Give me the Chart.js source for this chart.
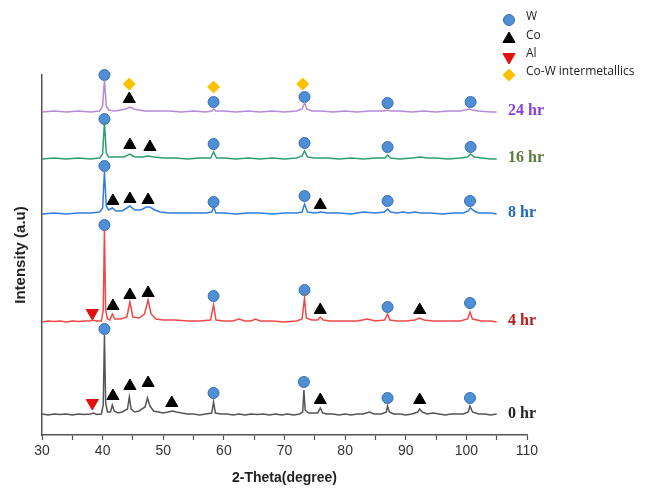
<!DOCTYPE html>
<html>
<head>
<meta charset="utf-8">
<script src="https://cdn.jsdelivr.net/npm/chart.js@4/dist/chart.umd.min.js"></script>
<style>
  html, body { margin: 0; padding: 0; background: #fff; }
  #wrap { width: 655px; height: 491px; position: relative; }
</style>
</head>
<body>
<div id="wrap"><canvas id="xrd"></canvas></div>
<script>
// --- DATA (2-theta, intensity above each pattern's baseline) ---
const sampleLabels = ['0 hr', '4 hr', '8 hr', '16 hr', '24 hr'];
const baselineOffsets = [20, 113, 221, 276, 323];

const pattern0hr = [[30,1],[31,0],[32,1],[33,0.5],[34,1],[35,0],[36,1],[37,0.5],[38,1],[38.5,2],[39,0.5],[39.8,1],[40.1,10],[40.3,80],[40.5,12],[40.8,3],[41.3,3],[41.6,10],[41.9,4],[42.5,2],[43.2,3],[44.1,6],[44.4,18],[44.7,6],[45.3,3],[46,4],[47,8],[47.4,17],[47.8,9],[48.4,4],[49.2,3],[50,2],[50.8,3],[51.5,4],[52.2,3],[53,2],[54,1],[55,1],[56,0],[57,1],[58,2],[58.3,13],[58.6,2],[59.5,1],[60.5,1],[61.5,0],[62.5,1],[63.5,0],[64.5,1],[65.5,0.5],[66.5,1],[67.5,0],[68.5,1],[69.5,0],[70.5,1],[71.5,0],[72.5,1],[73,3],[73.2,25],[73.4,5],[74,2],[75.5,2],[75.9,7],[76.3,2],[77,1],[78,1],[79,0],[80,1],[81,0],[82,1],[83,1],[84,3],[84.8,1],[86,1],[86.8,3],[87,9],[87.3,3],[88,1],[89,1],[90,0],[91,1],[92,3],[92.3,6],[92.7,3],[93.5,1],[94.5,2],[95.5,1],[96.5,0],[97.5,1],[98.5,1],[99.5,1],[100.3,3],[100.6,9],[101,3],[102,1],[103,1],[104,0],[105,1]];

const pattern4hr = [[30,0],[31,1],[32,0.5],[33,1],[34,0],[35,1],[36,0.5],[37,1],[38,1],[38.3,2],[39,1],[39.8,1],[40.1,12],[40.3,92],[40.5,12],[40.8,3],[41.2,2],[41.6,8],[42,3],[43,3],[44,5],[44.5,20],[45,5],[46,4],[46.9,8],[47.5,22],[48,8],[48.8,3],[50,2],[52,2],[54,1],[56,1],[57.8,2],[58.3,17],[58.7,2],[60,1],[61.5,1],[62.5,3],[63.5,1],[64.5,1],[65.2,3],[66,1],[68,1],[70,0],[72,1],[72.9,3],[73.3,24],[73.6,4],[74.5,2],[75.5,2],[75.9,5],[76.4,2],[77.5,1],[79,1],[80.5,1],[82,1],[83.7,3],[85,1],[86.5,2],[87,8],[87.4,2],[88.5,1],[90,1],[91.5,2],[92.3,4],[93,2],[94.5,1],[96,1],[97.5,1],[99,1],[100.2,3],[100.6,10],[101,3],[102.5,1],[104,1],[105,0]];

const pattern8hr = [[30,0],[32,1],[34,0],[36,1],[38,1],[39.5,2],[40,6],[40.3,42],[40.6,8],[41,4],[41.6,6],[42.2,3],[43.2,3],[44.5,8],[45.3,4],[46.3,4],[47.2,7],[47.8,7],[48.6,4],[49.5,2],[51,1],[53,1],[55,1],[57,1],[58,2],[58.3,7],[58.7,1],[60,1],[62,0],[64,1],[66,1],[68,0],[70,1],[72,1],[72.9,2],[73.3,10],[73.8,2],[75,1],[76,2],[77,1],[79,1],[81,0],[83,2],[85,1],[86.5,2],[87,5],[87.5,2],[88.5,1],[89.5,2],[90.5,1],[91.5,2],[92.5,1],[94,1],[96,0],[98,1],[99.5,1],[100.3,3],[100.7,6],[101.3,3],[102,1],[104,1],[105,0]];

const pattern16hr = [[30,0],[32,1],[34,0],[36,1],[38,0],[39.5,1],[40,5],[40.3,37],[40.6,6],[41,2],[42,2],[43.5,2],[44.5,5],[45.3,2],[46.5,2],[47.5,3],[48.5,2],[50,1],[52,1],[54,0],[56,1],[57.8,1],[58.3,7],[58.8,1],[60,1],[62,0],[64,1],[66,0],[68,1],[70,0],[72,1],[72.9,3],[73.3,8],[73.8,2],[75,1],[77,1],[79,0],[81,1],[83,0],[85,1],[86.6,1],[87,4],[87.5,1],[89,0],[91,1],[92.4,2],[93.5,1],[95,1],[97,0],[99,1],[100.2,2],[100.7,5],[101.3,2],[102.5,1],[104,0],[105,0]];

const pattern24hr = [[30,0],[32,1],[34,0],[36,1],[38,0],[39.5,1],[40,6],[40.3,32],[40.6,6],[41,2],[42,1],[43,2],[43.8,3],[44.5,5],[45.2,3],[46,2],[47,1],[49,1],[51,1],[53,0],[55,1],[57,0],[58,1],[58.3,3],[58.7,1],[60,1],[62,0],[64,1],[66,0],[68,1],[70,0],[72,1],[72.9,3],[73.3,9],[73.7,3],[74.5,1],[76,1],[78,0],[80,1],[82,0],[84,1],[86.5,1],[87,2],[87.5,1],[89,1],[91,0],[93,1],[95,0],[97,1],[99,1],[100.5,3],[101,2],[102,1],[104,0],[105,0]];

// phase markers (2-theta, plotted intensity)
const markersW = [[40.3,106],[58.3,42],[73.2,53],[87,37],[100.6,37],
  [40.3,210],[58.3,139],[73.3,145],[87,128],[100.6,132],
  [40.3,269],[58.3,233],[73.3,239],[87,234],[100.6,234],
  [40.3,316],[58.3,291],[73.3,292],[87,288],[100.7,288],
  [40.3,360],[58.3,333],[73.3,338],[87,332],[100.7,333]];
const markersCo = [[41.7,39],[44.5,49],[47.5,52],[51.4,32],[75.9,35],[92.3,35],
  [41.7,129],[44.5,140],[47.5,142],[75.9,125],[92.3,125],
  [41.7,234],[44.5,236],[47.5,235],[75.9,230],
  [44.5,290],[47.8,288],
  [44.4,336]];
const markersAl = [[38.3,32],[38.3,122]];
const markersCoW = [[44.4,351],[58.3,348],[73,351]];

const xTicks = [30, 40, 50, 60, 70, 80, 90, 100, 110];

// --- STYLE ---
const lineColors = ['#555555', '#f04848', '#2f7de0', '#2e9e6e', '#b58ad8'];
const labelColors = ['#222222', '#b81c1c', '#1f66bf', '#5b7d3c', '#8b3fd9'];
const patterns = [pattern0hr, pattern4hr, pattern8hr, pattern16hr, pattern24hr];

const datasets = [];
patterns.forEach((p, i) => {
    datasets.push({
        type: 'line',
        label: sampleLabels[i],
        data: p.map(pt => ({ x: pt[0], y: pt[1] + baselineOffsets[i] })),
        borderColor: lineColors[i],
        borderWidth: 1.5,
        pointRadius: 0,
        tension: 0,
        fill: false
    });
});

function markerSet(label, arr, style, bg, border, radius, rotation) {
    return {
        type: 'scatter',
        label: label,
        data: arr.map(pt => ({ x: pt[0], y: pt[1] })),
        pointStyle: style,
        backgroundColor: bg,
        borderColor: border,
        borderWidth: 1,
        pointRadius: radius,
        rotation: rotation || 0,
        clip: false
    };
}
const markerDefs = [
    markerSet('W', markersW, 'circle', '#4f8fd6', '#3a6fb0', 5.5),
    markerSet('Co', markersCo, 'triangle', '#000000', '#000000', 7),
    markerSet('Al', markersAl, 'triangle', '#e31010', '#e31010', 7, 180),
    markerSet('Co-W intermetallics', markersCoW, 'rectRot', '#ffc000', '#ffc000', 6)
];
markerDefs.forEach(d => datasets.push(d));

// sample labels at the right end + legend at top right
const extrasPlugin = {
    id: 'extras',
    afterDraw(chart) {
        const ctx = chart.ctx;
        const yScale = chart.scales.y;
        ctx.save();
        ctx.font = 'bold 16px "Liberation Serif"';
        ctx.textBaseline = 'middle';
        ctx.textAlign = 'left';
        sampleLabels.forEach((lab, i) => {
            ctx.fillStyle = labelColors[i];
            ctx.fillText(lab, 508, yScale.getPixelForValue(baselineOffsets[i]) - 1);
        });
        // legend
        const rows = [20, 39, 57, 75];
        ctx.font = '12px "Open Sans"';
        markerDefs.forEach((d, i) => {
            ctx.fillStyle = d.backgroundColor;
            ctx.strokeStyle = d.borderColor;
            ctx.lineWidth = 1;
            Chart.helpers.drawPoint(ctx, {
                pointStyle: d.pointStyle,
                rotation: d.rotation,
                radius: d.pointRadius,
                borderWidth: 1
            }, 509, rows[i]);
            ctx.fillStyle = '#222';
            ctx.fillText(d.label, 526, rows[i] - 3);
        });
        ctx.restore();
    }
};

new Chart(document.getElementById('xrd'), {
    data: { datasets: datasets },
    options: {
        responsive: true,
        maintainAspectRatio: false,
        animation: false,
        layout: { padding: { top: 75, right: 128, bottom: 0, left: 0 } },
        plugins: { legend: { display: false }, tooltip: { enabled: false } },
        scales: {
            x: {
                type: 'linear',
                min: 30,
                max: 110,
                afterFit: s => { s.height = 56; },
                border: { color: '#555', width: 1.5 },
                grid: { drawOnChartArea: false, tickLength: 5, color: '#555', tickWidth: 1.2 },
                ticks: {
                    stepSize: 5,
                    padding: 3,
                    color: '#333',
                    font: { family: 'Liberation Sans', size: 14 },
                    callback: v => xTicks.includes(v) ? String(v) : ''
                },
                title: {
                    display: true,
                    text: '2-Theta(degree)',
                    color: '#222',
                    font: { family: 'Liberation Sans', size: 14, weight: 'bold' },
                    padding: { top: 6, bottom: 4 }
                }
            },
            y: {
                type: 'linear',
                min: 0,
                max: 360,
                afterFit: s => { s.width = 42; },
                border: { color: '#555', width: 1.5 },
                grid: { display: false },
                ticks: { display: false },
                title: {
                    display: true,
                    text: 'Intensity (a.u)',
                    color: '#222',
                    font: { family: 'Liberation Sans', size: 15, weight: 'bold' },
                    padding: { top: 12, bottom: 0 }
                }
            }
        }
    },
    plugins: [extrasPlugin]
});
</script>
</body>
</html>
